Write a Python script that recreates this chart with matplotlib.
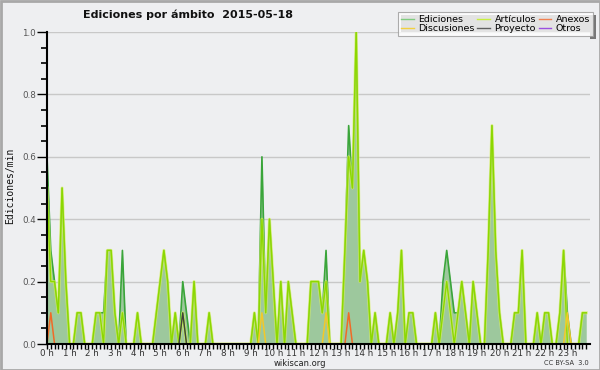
import numpy as np
import matplotlib
matplotlib.use("Agg")
import matplotlib.pyplot as plt
from matplotlib.patches import Rectangle

# edits per minute, 10-minute bins (144 per day)
ediciones = [
    0.6, 0.3, 0.2, 0.1, 0.5, 0.2, 0, 0, 0.1, 0.1, 0, 0,
    0, 0.1, 0.1, 0.1, 0.3, 0.3, 0.1, 0, 0.3, 0, 0, 0,
    0.1, 0, 0, 0, 0, 0.1, 0.2, 0.3, 0.2, 0, 0.1, 0,
    0.2, 0.1, 0, 0.2, 0, 0, 0, 0.1, 0, 0, 0, 0,
    0, 0, 0, 0, 0, 0, 0, 0.1, 0, 0.6, 0.1, 0.4,
    0.2, 0, 0.2, 0, 0.2, 0.1, 0, 0, 0, 0, 0.2, 0.2,
    0.2, 0.1, 0.3, 0, 0, 0, 0, 0.3, 0.7, 0.5, 1.0, 0.2,
    0.3, 0.2, 0, 0.1, 0, 0, 0, 0.1, 0, 0.1, 0.3, 0,
    0.1, 0.1, 0, 0, 0, 0, 0, 0.1, 0, 0.2, 0.3, 0.2,
    0.1, 0.1, 0.2, 0.1, 0, 0.2, 0.1, 0, 0, 0.3, 0.7, 0.3,
    0.1, 0, 0, 0, 0.1, 0.1, 0.3, 0, 0, 0, 0.1, 0,
    0.1, 0.1, 0, 0, 0.1, 0.3, 0.1, 0, 0, 0, 0.1, 0.1,
]
articulos = [
    0.5, 0.2, 0.2, 0.1, 0.5, 0.2, 0, 0, 0.1, 0.1, 0, 0,
    0, 0.1, 0.1, 0, 0.3, 0.3, 0.1, 0, 0.1, 0, 0, 0,
    0.1, 0, 0, 0, 0, 0.1, 0.2, 0.3, 0.2, 0, 0.1, 0,
    0.1, 0, 0, 0.2, 0, 0, 0, 0.1, 0, 0, 0, 0,
    0, 0, 0, 0, 0, 0, 0, 0.1, 0, 0.4, 0.1, 0.4,
    0.2, 0, 0.2, 0, 0.2, 0.1, 0, 0, 0, 0, 0.2, 0.2,
    0.2, 0.1, 0.2, 0, 0, 0, 0, 0.3, 0.6, 0.5, 1.0, 0.2,
    0.3, 0.2, 0, 0.1, 0, 0, 0, 0.1, 0, 0.1, 0.3, 0,
    0.1, 0.1, 0, 0, 0, 0, 0, 0.1, 0, 0.1, 0.2, 0.1,
    0, 0.1, 0.2, 0.1, 0, 0.2, 0.1, 0, 0, 0.3, 0.7, 0.3,
    0.1, 0, 0, 0, 0.1, 0.1, 0.3, 0, 0, 0, 0.1, 0,
    0.1, 0.1, 0, 0, 0.1, 0.3, 0, 0, 0, 0, 0.1, 0.1,
]
# sparse series: {bin: value}
anexos = {1: 0.1, 80: 0.1}
discusiones = {57: 0.1, 74: 0.1, 138: 0.1}
proyecto = {36: 0.1}
otros = {}

hour_labels = [f"{h} h" for h in range(24)]


def dense(d, n=144):
    arr = np.zeros(n)
    for k, v in d.items():
        arr[k] = v
    return arr


x = np.arange(144) / 6.0
bg = "#eeeff1"

fig = plt.figure(figsize=(6, 3.7), dpi=100, facecolor=bg)
ax = fig.add_axes([47 / 600, 1 - 344 / 370, 543 / 600, 312 / 370])
ax.set_facecolor(bg)

for yv in [0.2, 0.4, 0.6, 0.8, 1.0]:
    ax.axhline(yv, color="#c8c8c8", lw=1, zorder=0)

ed = np.array(ediciones)
art = np.array(articulos)
ax.fill_between(x, 0, ed, color="#9dc89d", lw=0, zorder=1)
ax.plot(x, ed, color="#3aa53a", lw=1.2, zorder=2)
ax.plot(x, art, color="#d8f060", lw=2.2, alpha=0.7, zorder=3)
ax.plot(x, art, color="#8cd800", lw=1.0, zorder=3)
ax.plot(x, dense(anexos), color="#f06a28", lw=1.1, zorder=4)
ax.plot(x, dense(discusiones), color="#f2c82a", lw=1.1, zorder=4)
ax.plot(x, dense(proyecto), color="#404040", lw=1.0, zorder=4)
ax.plot(x, dense(otros), color="#9b50e0", lw=1.0, zorder=4)

ax.set_xlim(0, 24)
ax.set_ylim(0, 1.0)
for s in ["top", "right"]:
    ax.spines[s].set_visible(False)
for s in ["left", "bottom"]:
    ax.spines[s].set_color("black")
    ax.spines[s].set_linewidth(1.5)
    ax.spines[s].set_zorder(5)

ax.set_xticks(np.arange(24))
ax.set_xticklabels(hour_labels)
ax.set_xticks(np.arange(144) / 6.0, minor=True)
ax.set_yticks([0, 0.2, 0.4, 0.6, 0.8, 1.0])
ax.set_yticklabels(["0.0", "0.2", "0.4", "0.6", "0.8", "1.0"])
ax.set_yticks(np.arange(0, 1.01, 0.05), minor=True)
ax.tick_params(axis="x", which="both", direction="out", length=3.5, width=1,
               color="black", labelsize=6.3, labelcolor="#333333", pad=0)
ax.tick_params(axis="y", which="major", direction="out", length=7, width=1,
               color="black", labelsize=6.3, labelcolor="#555555", pad=1)
ax.tick_params(axis="y", which="minor", direction="out", length=4.5, width=1.2,
               color="black")

fig.text(10 / 600, 1 - 186 / 370, "Ediciones/min", rotation=90, ha="center",
         va="center", fontsize=7, family="DejaVu Sans Mono", color="#111111")
fig.text(188 / 600, 1 - 15 / 370, "Ediciones por ámbito  2015-05-18",
         ha="center", va="center", fontsize=8, fontweight="bold", color="#111111")
fig.text(300 / 600, 1 - 363.5 / 370, "wikiscan.org", ha="center", va="center",
         fontsize=6, color="#222222")
fig.text(589 / 600, 1 - 363 / 370, "CC BY-SA  3.0", ha="right", va="center",
         fontsize=4.8, color="#333333")

# legend
handles = []
names = ["Ediciones", "Discusiones", "Artículos", "Proyecto", "Anexos", "Otros"]
cols = ["#80cc80", "#f2d040", "#c8f040", "#606060", "#f08050", "#9b50e0"]
for n, c in zip(names, cols):
    handles += ax.plot([], [], color=c, lw=1, label=n)
leg = fig.legend(handles=handles, ncol=3, loc="upper right",
                 bbox_to_anchor=(593 / 600, 1 - 12 / 370), fontsize=6.8,
                 frameon=True, fancybox=False, shadow=False, handlelength=1.3,
                 handletextpad=0.5, columnspacing=0.3, labelspacing=0.0,
                 borderpad=0.3, borderaxespad=0)
leg.get_frame().set_facecolor("white")
leg.get_frame().set_edgecolor("#999999")
leg.get_frame().set_linewidth(0.8)
fig.canvas.draw()
bb = leg.get_window_extent().transformed(fig.transFigure.inverted())
fig.patches.append(Rectangle((bb.x0 + 3 / 600, bb.y0 - 3 / 370), bb.width, bb.height,
                             transform=fig.transFigure, facecolor="#777777",
                             edgecolor="none", zorder=-1))
fig.patches.append(Rectangle((0.5 / 600, 0.5 / 370), 599 / 600, 369 / 370,
                             transform=fig.transFigure, facecolor="none",
                             edgecolor="#a8a8a8", lw=2))

fig.savefig("out.png", dpi=100, facecolor=bg)
